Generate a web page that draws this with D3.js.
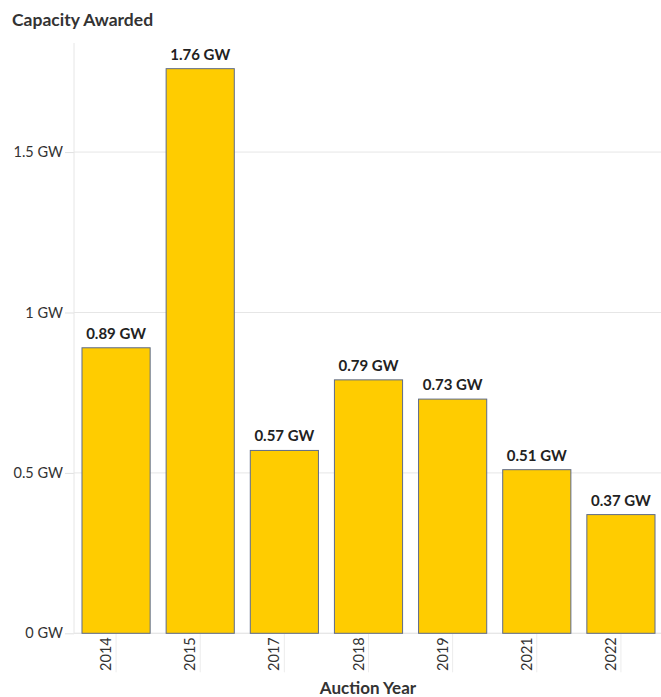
<!DOCTYPE html>
<html>
<head>
<meta charset="utf-8">
<script src="https://cdn.jsdelivr.net/npm/d3@7"></script>
<style>
  body { margin: 0; background: #fff; }
  text { font-family: Lato, "Noto Sans", sans-serif; }
</style>
</head>
<body>
<div id="chart"></div>
<script>
const years = ["2014", "2015", "2017", "2018", "2019", "2021", "2022"];
const capacity = [0.89, 1.76, 0.57, 0.79, 0.73, 0.51, 0.37];
const valueLabels = ["0.89 GW", "1.76 GW", "0.57 GW", "0.79 GW", "0.73 GW", "0.51 GW", "0.37 GW"];
const yTicks = [0, 0.5, 1, 1.5];

const width = 661,
    height = 697,
    margin = ({ top: 43, right: 0, bottom: 64, left: 74 });

const svg = d3.select("#chart")
    .append("svg")
    .attr("width", width)
    .attr("height", height);

const data = years.map((y, i) => ({ year: y, value: capacity[i], label: valueLabels[i] }));

let x = d3.scaleBand()
    .domain(years)
    .range([margin.left, 663])
    .paddingInner(0.19)
    .paddingOuter(0.095);

let y = d3.scaleLinear()
    .domain([0, 1.84])
    .range([633.3, margin.top]);

// title
svg.append("text")
    .attr("x", 12)
    .attr("y", 26)
    .attr("font-size", 17.5)
    .attr("font-weight", "bold")
    .attr("fill", "#333")
    .text("Capacity Awarded");

// gridlines
svg.append("g")
    .selectAll("line")
    .data(yTicks)
    .join("line")
    .attr("x1", margin.left)
    .attr("x2", width)
    .attr("y1", d => y(d))
    .attr("y2", d => y(d))
    .attr("stroke", "#e6e6e6");

// y axis
const yAxis = svg.append("g")
    .attr("transform", `translate(${margin.left},0)`)
    .call(d3.axisLeft(y)
        .tickValues(yTicks)
        .tickSize(9)
        .tickPadding(2)
        .tickFormat(d => d + " GW"));
yAxis.select(".domain").remove();
yAxis.selectAll(".tick line").attr("stroke", "#e0e0e0");
yAxis.selectAll(".tick text")
    .attr("font-size", 14.5)
    .attr("fill", "#333")
    .style("font-family", "Lato, 'Noto Sans', sans-serif");

svg.append("line")
    .attr("x1", margin.left)
    .attr("x2", margin.left)
    .attr("y1", margin.top)
    .attr("y2", y(0))
    .attr("stroke", "#e6e6e6");

// x axis
const xAxis = svg.append("g")
    .attr("transform", `translate(0,${y(0)})`)
    .call(d3.axisBottom(x).tickSize(39).tickPadding(0));
xAxis.select(".domain").attr("stroke", "#e6e6e6").attr("d", `M${margin.left},0H${width}`);
xAxis.selectAll(".tick line").attr("stroke", "#ececec");
xAxis.selectAll(".tick text")
    .attr("font-size", 14.5)
    .attr("fill", "#333")
    .style("font-family", "Lato, 'Noto Sans', sans-serif")
    .attr("text-anchor", "end")
    .attr("transform", "translate(-5,4) rotate(-90)")
    .attr("x", 0)
    .attr("y", 0)
    .attr("dy", "0");

svg.append("text")
    .attr("x", 368)
    .attr("y", 694)
    .attr("text-anchor", "middle")
    .attr("font-size", 17)
    .attr("font-weight", "bold")
    .attr("fill", "#333")
    .text("Auction Year");

// bars
svg.append("g")
    .selectAll("rect")
    .data(data)
    .join("rect")
    .attr("x", d => x(d.year))
    .attr("y", d => y(d.value))
    .attr("width", x.bandwidth())
    .attr("height", d => y(0) - y(d.value))
    .attr("fill", "#ffcc00")
    .attr("stroke", "#5d6a8a")
    .attr("stroke-width", 1);

// value labels
svg.append("g")
    .selectAll("text")
    .data(data)
    .join("text")
    .attr("x", d => x(d.year) + x.bandwidth() / 2)
    .attr("y", d => y(d.value) - 9)
    .attr("text-anchor", "middle")
    .attr("font-size", 15)
    .attr("font-weight", "bold")
    .attr("fill", "#222")
    .text(d => d.label);
</script>
</body>
</html>
